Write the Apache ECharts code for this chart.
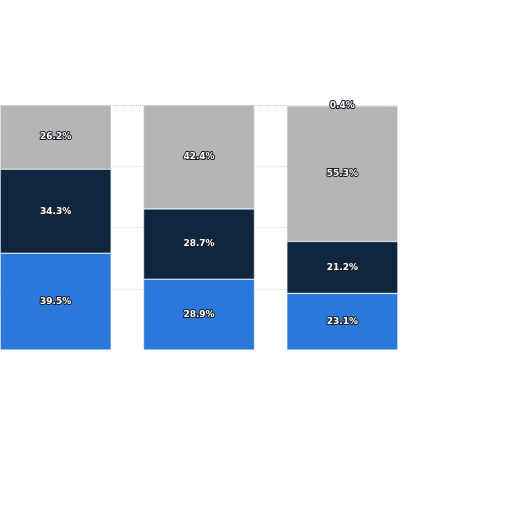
<!DOCTYPE html>
<html>
<head>
    <meta charset="utf-8">
    <script src="https://cdn.jsdelivr.net/npm/echarts@6/dist/echarts.min.js"></script>
    <style>
        html, body { margin: 0; padding: 0; background: #ffffff; overflow: hidden; }
        /* the first band starts left of the window, so the canvas is shifted 16px */
        #main { position: absolute; left: -16px; top: 0; width: 528px; height: 512px; }
    </style>
</head>
<body>
<div id="main"></div>
<script>
    // categories (names not shown in the picture)
    var categories = ['Group 1', 'Group 2', 'Group 3'];
    // stacked shares, bottom to top, in percent
    var blueValues = [39.5, 28.9, 23.1];
    var navyValues = [34.3, 28.7, 21.2];
    var grayValues = [26.2, 42.4, 55.3];
    var topValues = [null, null, 0.4];
    var yTicks = [0, 25, 50, 75, 100];

    var chart = echarts.init(document.getElementById('main'));

    var labelStyle = {
        show: true,
        position: 'inside',
        formatter: function (p) { return p.value.toFixed(1) + '%'; },
        color: '#ffffff',
        fontFamily: 'DejaVu Sans',
        fontWeight: 'bold',
        fontSize: 9,
        textBorderColor: '#1b1f2b',
        textBorderWidth: 2
    };

    function makeSeries(name, data, color) {
        return {
            name: name,
            type: 'bar',
            stack: 'total',
            barWidth: 111,
            data: data,
            itemStyle: {
                color: color,
                borderColor: 'rgba(230,236,244,0.8)',
                borderWidth: 0.6
            },
            label: labelStyle
        };
    }

    chart.setOption({
        animation: false,
        backgroundColor: '#ffffff',
        grid: [
            // bars
            { left: 0, right: 98, top: 105, bottom: 162, containLabel: false },
            // gridlines, cut at the right edge of the last bar
            { left: 16, right: 130, top: 105, bottom: 162, containLabel: false }
        ],
        xAxis: [{
            type: 'category',
            gridIndex: 0,
            data: categories,
            axisLine: { show: false },
            axisTick: { show: false },
            axisLabel: { show: false }
        }, {
            type: 'category',
            gridIndex: 1,
            data: categories,
            show: false
        }],
        yAxis: [{
            type: 'value',
            gridIndex: 0,
            min: yTicks[0],
            max: yTicks[yTicks.length - 1],
            interval: 25,
            axisLine: { show: false },
            axisTick: { show: false },
            axisLabel: { show: false },
            splitLine: { show: false }
        }, {
            type: 'value',
            gridIndex: 1,
            min: yTicks[0],
            max: yTicks[yTicks.length - 1],
            interval: 25,
            axisLine: { show: false },
            axisTick: { show: false },
            axisLabel: { show: false },
            splitLine: {
                show: true,
                lineStyle: {
                    color: ['#ffffff', '#d8d8d8', '#d8d8d8', '#d8d8d8', '#c4c4c4'],
                    type: 'dotted',
                    width: 1
                }
            }
        }],
        series: [
            makeSeries('Blue', blueValues, '#2a78d9'),
            makeSeries('Navy', navyValues, '#10263f'),
            makeSeries('Gray', grayValues, '#b5b5b5'),
            makeSeries('Other', topValues, '#c9c9c9')
        ]
    });
</script>
</body>
</html>
